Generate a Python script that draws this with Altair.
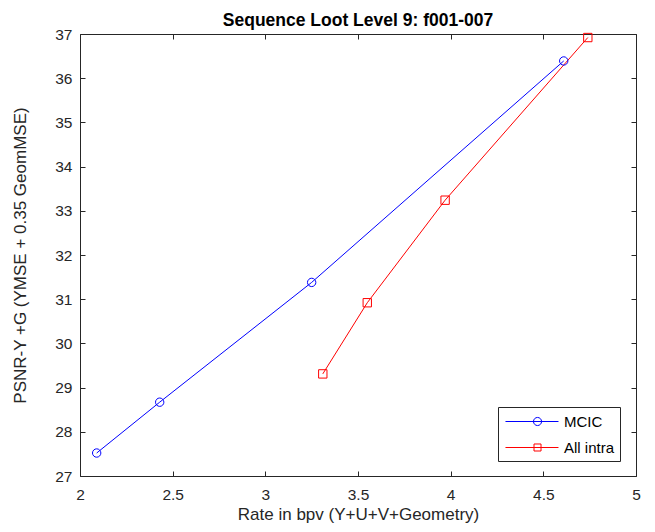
import altair as alt
import pandas as pd

# ---- data ----
series_names = ["MCIC", "All intra"]
series_colors = ["#0000ff", "#ff0000"]
mcic_rate = [2.09, 2.43, 3.25, 4.61]
mcic_psnr = [27.52, 28.67, 31.38, 36.39]
intra_rate = [3.31, 3.55, 3.97, 4.74]
intra_psnr = [29.31, 30.92, 33.24, 36.92]
x_ticks = [2, 2.5, 3, 3.5, 4, 4.5, 5]
y_ticks = [27, 28, 29, 30, 31, 32, 33, 34, 35, 36, 37]

rows = []
for r, p in zip(mcic_rate, mcic_psnr):
    rows.append({"rate": r, "psnr": p, "series": "MCIC"})
for r, p in zip(intra_rate, intra_psnr):
    rows.append({"rate": r, "psnr": p, "series": "All intra"})
df = pd.DataFrame(rows)

FONT = "Liberation Sans"
AX = "#262626"

xs = alt.Scale(domain=[2, 5], nice=False, zero=False)
ys = alt.Scale(domain=[27, 37], nice=False, zero=False)

tick_common = dict(domain=False, grid=False, tickColor=AX, tickSize=5, tickWidth=1,
                   offset=-5, labelFlush=False)
label_common = dict(labelFont=FONT, labelFontSize=15.5, labelColor=AX,
                    titleFont=FONT, titleFontSize=17, titleColor=AX,
                    titleFontWeight="normal", format="~g")

color_plain = alt.Color("series:N",
                        scale=alt.Scale(domain=series_names, range=series_colors),
                        legend=None)

lines = alt.Chart(df).mark_line(strokeWidth=1).encode(
    x=alt.X("rate:Q", scale=xs,
            axis=alt.Axis(values=x_ticks, title="Rate in bpv (Y+U+V+Geometry)",
                          labelPadding=11, titlePadding=4, **tick_common, **label_common)),
    y=alt.Y("psnr:Q", scale=ys,
            axis=alt.Axis(values=y_ticks, title="PSNR-Y +G (YMSE + 0.35 GeomMSE)",
                          labelPadding=8, titlePadding=25, **tick_common, **label_common)),
    color=color_plain,
    order="rate:Q",
)

points = alt.Chart(df).mark_point(filled=False, size=70, strokeWidth=1, opacity=1).encode(
    x=alt.X("rate:Q", scale=xs,
            axis=alt.Axis(orient="top", values=x_ticks, labels=False, title=None, **tick_common)),
    y=alt.Y("psnr:Q", scale=ys,
            axis=alt.Axis(orient="right", values=y_ticks, labels=False, title=None, **tick_common)),
    color=color_plain,
    shape=alt.Shape("series:N",
                    scale=alt.Scale(domain=series_names, range=["circle", "square"]),
                    legend=None),
)

legend_paths = [
    "M-0.78,0H5.11M3.23,0A0.45,0.45 0 1,1 2.33,0A0.45,0.45 0 1,1 3.23,0",
    "M-0.78,0H5.11M2.39,-0.39H3.17V0.39H2.39Z",
]

leg = alt.Legend(title=None, orient="none", legendX=418, legendY=373,
                 strokeColor="#262626", fillColor="white", padding=5,
                 symbolSize=324, symbolStrokeWidth=1, symbolOpacity=1,
                 labelFont=FONT, labelFontSize=15, labelColor="black",
                 labelOffset=42, rowPadding=8, cornerRadius=0)

legend_layer = alt.Chart(df).transform_calculate(label="datum.series").mark_point(
    filled=False, opacity=0
).encode(
    x=alt.X("rate:Q", scale=xs, axis=None),
    y=alt.Y("psnr:Q", scale=ys, axis=None),
    color=alt.Color("label:N",
                    scale=alt.Scale(domain=series_names, range=series_colors),
                    legend=leg),
    shape=alt.Shape("label:N",
                    scale=alt.Scale(domain=series_names, range=legend_paths),
                    legend=leg),
)

chart = alt.layer(lines, points, legend_layer).resolve_scale(
    shape="independent", color="independent"
).resolve_axis(
    x="independent", y="independent"
).properties(
    width=556, height=442,
    title=alt.TitleParams("Sequence Loot Level 9: f001-007", font=FONT, fontSize=17.5,
                          fontWeight="bold", color="black", anchor="middle", offset=-2),
    autosize=alt.AutoSizeParams(type="none"),
    padding={"left": 72, "top": 26, "right": 11, "bottom": 54},
).configure_view(stroke=AX, strokeWidth=1)

chart.save("out.html", embed_options={"renderer": "svg", "actions": False})
